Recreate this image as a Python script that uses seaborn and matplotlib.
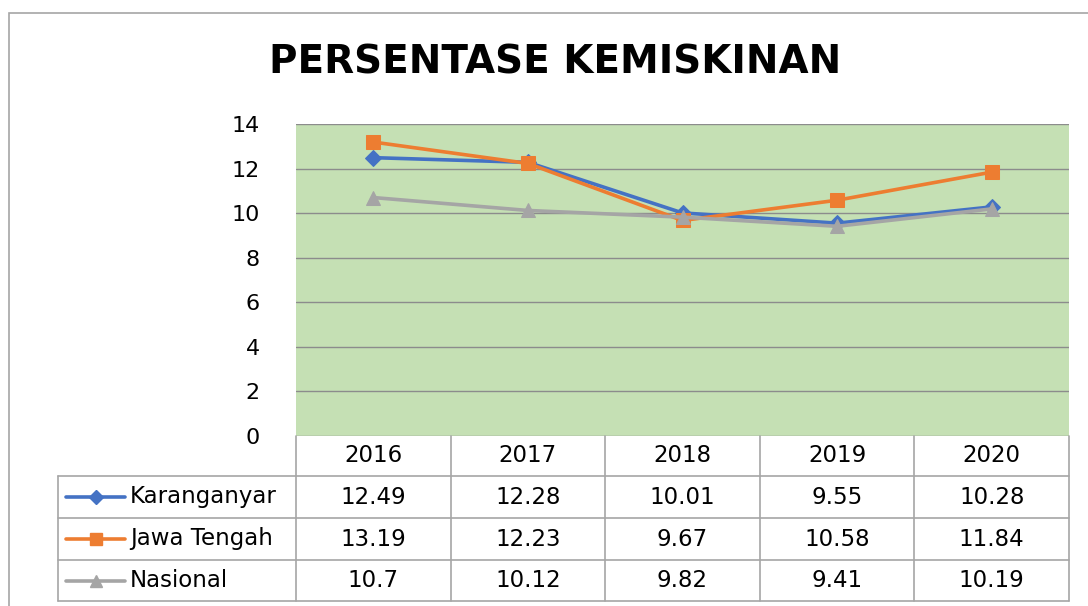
import numpy as np
import pandas as pd
import seaborn as sns
import matplotlib.pyplot as plt
from matplotlib.lines import Line2D
from matplotlib.patches import Rectangle

years = ["2016", "2017", "2018", "2019", "2020"]
karanganyar = [12.49, 12.28, 10.01, 9.55, 10.28]
jawa_tengah = [13.19, 12.23, 9.67, 10.58, 11.84]
nasional = [10.7, 10.12, 9.82, 9.41, 10.19]
series_names = ["Karanganyar", "Jawa Tengah", "Nasional"]
y_ticks = [0, 2, 4, 6, 8, 10, 12, 14]

colors = ["#4472C4", "#ED7D31", "#A5A5A5"]
markers = ["D", "s", "^"]
marker_sizes = [8, 10, 10]
grid_color = "#8C8C8C"
table_color = "#A6A6A6"

sns.set_theme(style="white")
plt.rcParams["font.family"] = ["DejaVu Sans"]
plt.rcParams["text.color"] = "black"
plt.rcParams["ytick.color"] = "black"
plt.rcParams["ytick.labelcolor"] = "black"

df = pd.DataFrame({
    "pos": np.tile(np.arange(len(years)), 3),
    "value": karanganyar + jawa_tengah + nasional,
    "series": np.repeat(series_names, len(years)),
})

fig = plt.figure(figsize=(10.88, 6.06), dpi=100)
ax = fig.add_axes([296 / 1088, 1 - 436 / 606, 773 / 1088, 312 / 606])
ax.set_facecolor("#C5E0B4")

# outer chart border
fig.patches.append(Rectangle((9 / 1088, -0.1), 1.2, 1 - 13 / 606 + 0.1,
                             transform=fig.transFigure, fill=False,
                             edgecolor="#A6A6A6", linewidth=1.2))

for i, name in enumerate(series_names):
    sub = df[df["series"] == name]
    sns.lineplot(data=sub, x="pos", y="value", ax=ax, color=colors[i],
                 marker=markers[i], markersize=marker_sizes[i],
                 markeredgecolor=colors[i], linewidth=2.6, zorder=3 + i,
                 legend=False)

ax.set_xlim(-0.5, len(years) - 0.5)
ax.set_ylim(0, 14)
ax.set_yticks(y_ticks)
ax.set_yticklabels([str(t) for t in y_ticks], fontsize=16, color="black")
ax.tick_params(axis="y", length=0, pad=26)
ax.set_xticks([])
ax.set_xlabel("")
ax.set_ylabel("")
for t in y_ticks:
    ax.axhline(t, color=grid_color, linewidth=1, zorder=1)
for s in ax.spines.values():
    s.set_visible(False)

fig.text(555 / 1088, 1 - 62 / 606, "PERSENTASE KEMISKINAN", ha="center",
         va="center", fontsize=28, fontweight="bold", color="black")

# data table below the plot
trans = ax.get_xaxis_transform()
row_edges = [0, -40 / 312, -82 / 312, -124 / 312, -165 / 312]
label_left = (58 - 296) / 773
tbl = dict(color=table_color, linewidth=1.2, clip_on=False)

for k in range(len(years) + 1):
    ax.plot([k - 0.5, k - 0.5], [row_edges[0], row_edges[-1]], transform=trans, **tbl)
ax.plot([label_left, label_left], [row_edges[1], row_edges[-1]], transform=ax.transAxes, **tbl)
for r in row_edges[1:]:
    ax.plot([label_left, 1], [r, r], transform=ax.transAxes, **tbl)

header_y = (row_edges[0] + row_edges[1]) / 2
for k, yr in enumerate(years):
    ax.text(k, header_y, yr, transform=trans, ha="center", va="center",
            fontsize=16.5, color="black")

all_values = [karanganyar, jawa_tengah, nasional]
for i, name in enumerate(series_names):
    yc = (row_edges[i + 1] + row_edges[i + 2]) / 2
    for k, v in enumerate(all_values[i]):
        ax.text(k, yc, f"{v:g}", transform=trans, ha="center", va="center",
                fontsize=16.5, color="black")
    x0 = (66 - 296) / 773
    x1 = (125 - 296) / 773
    ax.add_line(Line2D([x0, x1], [yc, yc], transform=ax.transAxes, color=colors[i],
                       linewidth=2.6, clip_on=False))
    ax.add_line(Line2D([(x0 + x1) / 2], [yc], transform=ax.transAxes, color=colors[i],
                       marker=markers[i], markersize=marker_sizes[i] - 1,
                       markeredgecolor=colors[i], clip_on=False))
    ax.text((130 - 296) / 773, yc, name, transform=ax.transAxes, ha="left",
            va="center", fontsize=16.5, color="black")

fig.savefig("out.png", dpi=100)
